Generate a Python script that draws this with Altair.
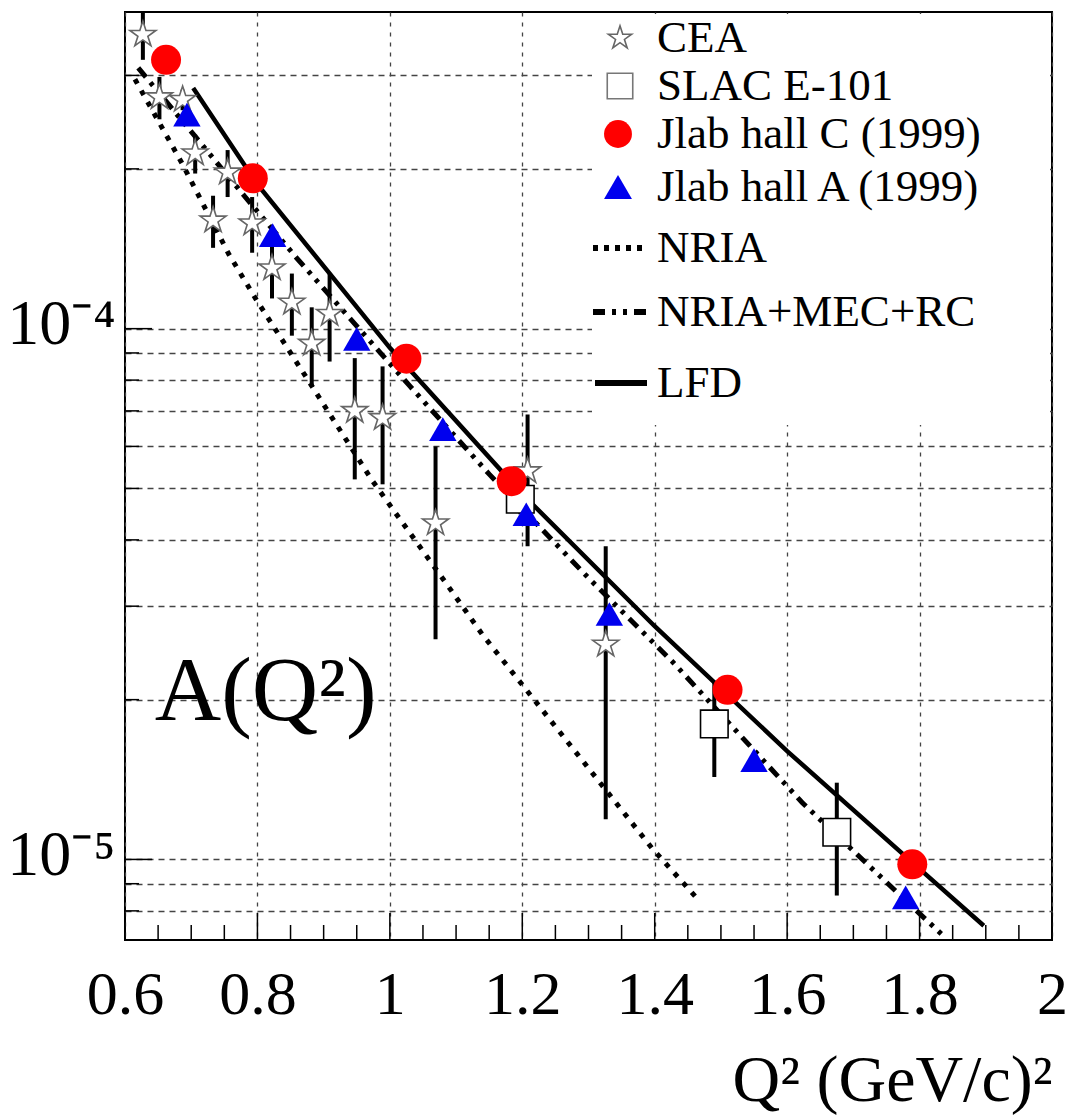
import altair as alt
import pandas as pd

# ---------------- data ----------------
# CEA (open stars) with error bars
cea_q2 = [0.627, 0.652, 0.687, 0.706, 0.733, 0.755, 0.792, 0.822, 0.852, 0.882,
          0.909, 0.947, 0.989, 1.069, 1.208, 1.326]
cea_a = [3.58e-4, 2.73e-4, 2.70e-4, 2.14e-4, 1.60e-4, 1.97e-4, 1.58e-4, 1.30e-4,
         1.12e-4, 9.37e-5, 1.067e-4, 7.00e-5, 6.79e-5, 4.30e-5, 5.39e-5, 2.54e-5]
cea_err = [3.7e-5, 2.5e-5, 1.2e-5, 1.8e-5, 1.8e-5, 2.0e-5, 1.9e-5, 1.6e-5,
           1.5e-5, 1.6e-5, 2.0e-5, 1.8e-5, 1.7e-5, 1.7e-5, 1.5e-5, 1.35e-5]

# SLAC E-101 (open squares)
slac_q2 = [1.197, 1.49, 1.675]
slac_a = [4.77e-5, 1.80e-5, 1.125e-5]
slac_err = [0.3e-5, 0.37e-5, 0.27e-5]

# Jlab hall C (1999) red circles
hallc_q2 = [0.662, 0.793, 1.025, 1.184, 1.51, 1.789]
hallc_a = [3.21e-4, 1.92e-4, 8.78e-5, 5.16e-5, 2.087e-5, 9.79e-6]

# Jlab hall A (1999) blue triangles
halla_q2 = [0.6935, 0.823, 0.95, 1.08, 1.206, 1.3315, 1.55, 1.779]
halla_a = [2.53e-4, 1.50e-4, 9.57e-5, 6.47e-5, 4.47e-5, 2.90e-5, 1.538e-5, 8.48e-6]

# Theory curves
nria_q2 = [0.615, 0.686, 0.757, 0.799, 0.8745, 0.974, 1.08, 1.14, 1.3964, 1.4627]
nria_a = [2.95e-4, 2.05e-4, 1.38e-4, 1.13e-4, 8.07e-5, 5.16e-5, 3.38e-5, 2.65e-5,
          1.048e-5, 8.48e-6]

nmr_q2 = [0.62, 0.70, 0.78, 0.859, 0.932, 1.03, 1.15, 1.301, 1.4265, 1.6226, 1.8036, 1.84]
nmr_a = [3.1e-4, 2.35e-4, 1.78e-4, 1.36e-4, 1.072e-4, 7.8e-5, 5.32e-5, 3.38e-5,
         2.36e-5, 1.28e-5, 7.83e-6, 7.1e-6]

lfd_q2 = [0.703, 0.8, 1.0, 1.2, 1.4, 1.6, 1.8, 1.897]
lfd_a = [2.84e-4, 1.87e-4, 9.2e-5, 4.88e-5, 2.75e-5, 1.6e-5, 9.6e-6, 7.5e-6]

# axis tick values
x_major = [0.6, 0.8, 1.0, 1.2, 1.4, 1.6, 1.8, 2.0]
x_minor = [0.65, 0.7, 0.75, 0.85, 0.9, 0.95, 1.05, 1.1, 1.15, 1.25, 1.3, 1.35,
           1.45, 1.5, 1.55, 1.65, 1.7, 1.75, 1.85, 1.9, 1.95]
y_major = [1e-5, 1e-4]
y_minor = [8e-6, 9e-6, 2e-5, 3e-5, 4e-5, 5e-5, 6e-5, 7e-5, 8e-5, 9e-5, 2e-4, 3e-4]

legend_labels = ["CEA", "SLAC E-101", "Jlab hall C (1999)", "Jlab hall A (1999)",
                 "NRIA", "NRIA+MEC+RC", "LFD"]
annotation = "A(Q²)"
annotation_at = (0.645, 1.83e-5)

# ---------------- layout / style ----------------
W, H = 927, 928
FONT = "Liberation Serif"
LEG_ROWS = [26, 74, 122, 175, 236, 300, 371]
STAR = ("M0,-1L0.2245,-0.309L0.951,-0.309L0.363,0.118L0.588,0.809L0,0.382"
        "L-0.588,0.809L-0.363,0.118L-0.951,-0.309L-0.2245,-0.309Z")
DASHDOT = [12, 7, 4, 7, 4, 7]

XS = alt.Scale(domain=[0.6, 2.0], nice=False, zero=False)
YS = alt.Scale(type="log", domain=[7.05e-6, 3.95e-4], nice=False)

y_grid = sorted(y_major + y_minor)

XAX = alt.Axis(values=x_major, format="~g", grid=True, gridDash=[4, 6],
               gridColor="#444444", gridWidth=1.3, ticks=False, domain=False,
               labelFont=FONT, labelFontSize=62, labelColor="black",
               labelPadding=73, labelBaseline="alphabetic", labelFlush=False,
               labelOverlap=False, title="Q² (GeV/c)²", titleFont=FONT,
               titleFontSize=66, titleFontWeight="normal", titleColor="black",
               titleAlign="right", titleAnchor="end", titleX=W, titleY=160,
               titleBaseline="alphabetic")
YAX = alt.Axis(values=y_grid, grid=True, gridDash=[6, 5], gridColor="#444444",
               gridWidth=1.3, ticks=False, domain=False, labelFont=FONT,
               labelFontSize=64, labelColor="black", labelAlign="right",
               labelBaseline="middle", labelPadding=10, labelFlush=False,
               labelOverlap=False, labelOffset=-4,
               labelExpr="abs(log(datum.value)/LN10 - round(log(datum.value)/LN10)) < 0.01 ? "
                         "(round(log(datum.value)/LN10) == -4 ? '10⁻⁴' : '10⁻⁵') : ''",
               title="")


def X(f):
    return alt.X(f, type="quantitative", scale=XS, axis=XAX)


def Y(f):
    return alt.Y(f, type="quantitative", scale=YS, axis=YAX)


def Y2(f):
    return alt.Y2(f)


cea = pd.DataFrame({"q2": cea_q2, "a": cea_a, "err": cea_err})
cea["lo"] = cea["a"] - cea["err"]
cea["hi"] = cea["a"] + cea["err"]
slac = pd.DataFrame({"q2": slac_q2, "a": slac_a, "err": slac_err})
slac["lo"] = slac["a"] - slac["err"]
slac["hi"] = slac["a"] + slac["err"]
hallc = pd.DataFrame({"q2": hallc_q2, "a": hallc_a})
halla = pd.DataFrame({"q2": halla_q2, "a": halla_a})
nria = pd.DataFrame({"q2": nria_q2, "a": nria_a})
nmr = pd.DataFrame({"q2": nmr_q2, "a": nmr_a})
lfd = pd.DataFrame({"q2": lfd_q2, "a": lfd_a})

layers = []

# theory curves
layers.append(alt.Chart(nria).mark_line(color="black", strokeWidth=5, strokeDash=[5, 8],
                                        clip=True).encode(x=X("q2"), y=Y("a")))
layers.append(alt.Chart(nmr).mark_line(color="black", strokeWidth=5,
                                       strokeDash=DASHDOT, clip=True)
              .encode(x=X("q2"), y=Y("a")))
layers.append(alt.Chart(lfd).mark_line(color="black", strokeWidth=4.5, clip=True)
              .encode(x=X("q2"), y=Y("a")))

# error bars
layers.append(alt.Chart(cea).mark_rule(color="black", strokeWidth=4, clip=True)
              .encode(x=X("q2"), y=Y("lo"), y2=Y2("hi")))
layers.append(alt.Chart(slac).mark_rule(color="black", strokeWidth=4, clip=True)
              .encode(x=X("q2"), y=Y("lo"), y2=Y2("hi")))

# data points
layers.append(alt.Chart(cea).mark_point(shape=STAR, filled=True, fill="white",
                                        stroke="#666666", strokeWidth=1.6, size=750,
                                        opacity=1).encode(x=X("q2"), y=Y("a")))
layers.append(alt.Chart(slac).mark_point(shape="square", filled=True, fill="white",
                                         stroke="black", strokeWidth=1.6, size=760,
                                         opacity=1).encode(x=X("q2"), y=Y("a")))
layers.append(alt.Chart(hallc).mark_point(shape="circle", filled=True, color="#ff0000",
                                          size=900, opacity=1)
              .encode(x=X("q2"), y=Y("a")))
layers.append(alt.Chart(halla).mark_point(shape="triangle-up", filled=True, color="#0000ee",
                                          size=750, opacity=1)
              .encode(x=X("q2"), y=Y("a")))

# annotation A(Q^2)
ann = pd.DataFrame({"q2": [annotation_at[0]], "a": [annotation_at[1]], "t": [annotation]})
layers.append(alt.Chart(ann).mark_text(font=FONT, fontSize=92, align="left",
                                       baseline="alphabetic", color="black")
              .encode(x=X("q2"), y=Y("a"), text="t:N"))

# inside ticks
xt_major = pd.DataFrame({"v": x_major})
xt_minor = pd.DataFrame({"v": x_minor})
yt_major = pd.DataFrame({"v": y_major})
yt_minor = pd.DataFrame({"v": y_minor})
layers.append(alt.Chart(xt_major).mark_rule(color="black", strokeWidth=1.5)
              .encode(x=X("v"), y=alt.value(H), y2=alt.value(H - 27)))
layers.append(alt.Chart(xt_minor).mark_rule(color="black", strokeWidth=1.5)
              .encode(x=X("v"), y=alt.value(H), y2=alt.value(H - 15)))
layers.append(alt.Chart(yt_major).mark_rule(color="black", strokeWidth=1.5)
              .encode(y=Y("v"), x=alt.value(0), x2=alt.value(27)))
layers.append(alt.Chart(yt_minor).mark_rule(color="black", strokeWidth=1.5)
              .encode(y=Y("v"), x=alt.value(0), x2=alt.value(14)))

# ---------------- legend (drawn as marks) ----------------
one = pd.DataFrame({"k": [0]})
layers.append(alt.Chart(one).mark_rect(fill="white")
              .encode(x=alt.value(467), x2=alt.value(W - 2), y=alt.value(2),
                      y2=alt.value(413)))
SX = 495
layers.append(alt.Chart(one).mark_point(shape=STAR, filled=True, fill="white",
                                        stroke="#666666", strokeWidth=1.6, size=600,
                                        opacity=1)
              .encode(x=alt.value(SX), y=alt.value(LEG_ROWS[0])))
layers.append(alt.Chart(one).mark_point(shape="square", filled=True, fill="white",
                                        stroke="#777777", strokeWidth=1.6, size=650,
                                        opacity=1)
              .encode(x=alt.value(SX), y=alt.value(LEG_ROWS[1])))
layers.append(alt.Chart(one).mark_point(shape="circle", filled=True, color="#ff0000",
                                        size=780, opacity=1)
              .encode(x=alt.value(SX - 2), y=alt.value(LEG_ROWS[2])))
layers.append(alt.Chart(one).mark_point(shape="triangle-up", filled=True, color="#0000ee",
                                        size=780, opacity=1)
              .encode(x=alt.value(SX - 2), y=alt.value(LEG_ROWS[3])))
layers.append(alt.Chart(one).mark_rule(color="black", strokeWidth=6, strokeDash=[5, 6])
              .encode(x=alt.value(468), x2=alt.value(523), y=alt.value(LEG_ROWS[4])))
layers.append(alt.Chart(one).mark_rule(color="black", strokeWidth=6, strokeDash=DASHDOT)
              .encode(x=alt.value(468), x2=alt.value(523), y=alt.value(LEG_ROWS[5])))
layers.append(alt.Chart(one).mark_rule(color="black", strokeWidth=6)
              .encode(x=alt.value(470), x2=alt.value(522), y=alt.value(LEG_ROWS[6])))

legend_df = pd.DataFrame({"label": legend_labels, "ly": LEG_ROWS})
layers.append(alt.Chart(legend_df).mark_text(font=FONT, fontSize=45, align="left",
                                             baseline="middle", color="black")
              .encode(x=alt.value(532), y=alt.Y("ly:Q", scale=None), text="label:N"))

chart = alt.layer(*layers).properties(
    width=W, height=H,
    autosize=alt.AutoSizeParams(type="none"),
    padding={"left": 125, "top": 12, "right": 1071 - 125 - W, "bottom": 1120 - 12 - H},
    background="white",
).configure_view(stroke="black", strokeWidth=2)

chart.save("out.html", embed_options={"renderer": "svg", "actions": False})
